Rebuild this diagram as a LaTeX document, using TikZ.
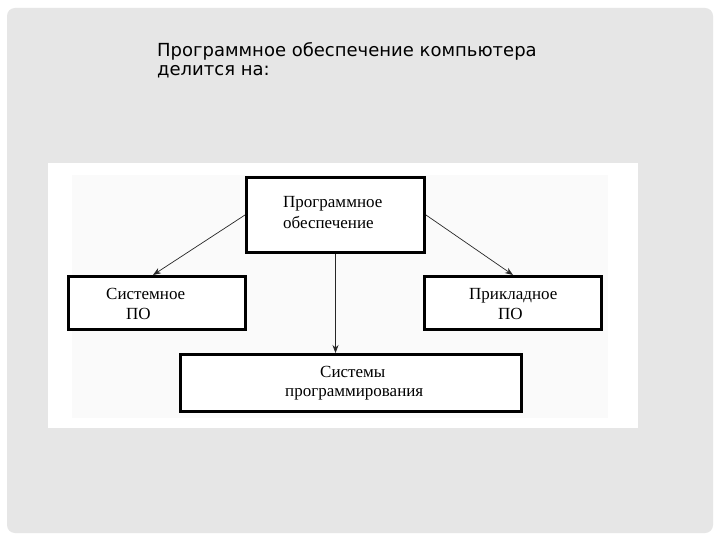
\documentclass[tikz,border=0pt]{standalone}
\usepackage{fontspec}
\setmainfont{Liberation Serif}
\newfontfamily\titlefont{DejaVu Sans}
\usetikzlibrary{arrows.meta}
\definecolor{slidegray}{HTML}{E6E6E6}
\definecolor{innerwhite}{HTML}{FAFAFA}
\begin{document}
\begin{tikzpicture}[x=1pt,y=-1pt,
  box/.style={draw=black, line width=3pt, fill=white, inner sep=0pt},
  lbl/.style={font=\fontsize{17}{20}\selectfont, align=left, inner sep=0pt, anchor=base west},
  arr/.style={-{Stealth[length=8pt,width=6pt]}, line width=0.7pt, draw=black!85}]
\useasboundingbox (0,0) rectangle (720,540);
\fill[white] (0,0) rectangle (720,540);
\fill[slidegray, rounded corners=8pt] (7,8) rectangle (713,533);
\fill[white] (48,163) rectangle (638,428);
\fill[innerwhite] (72,175) rectangle (608,418);
\node[font=\titlefont\fontsize{18}{19}\selectfont, align=left, inner sep=0pt, anchor=north west] (title) at (157,42)
  {Программное обеспечение компьютера\\делится на:};
\node[box, minimum width=178pt, minimum height=75pt] (top) at (335.5,215) {};
\node[box, minimum width=177pt, minimum height=53pt] (left) at (157,303) {};
\node[box, minimum width=177pt, minimum height=53pt] (right) at (513,303) {};
\node[box, minimum width=341pt, minimum height=57pt] (bottom) at (351,383) {};
\node[lbl, font=\fontsize{17}{21}\selectfont] (ttop) at (283,229) {Программное\\обеспечение};
\node[lbl] (tleft) at (106,319) {Системное\\\hspace*{20pt}ПО};
\node[lbl] (tright) at (469,319) {Прикладное\\\hspace*{29pt}ПО};
\node[lbl, font=\fontsize{17}{19}\selectfont] (tbottom) at (285,396) {\hspace*{35pt}Системы\\программирования};
\draw[arr] (top.west) -- ([xshift=-4pt]left.north);
\draw[arr] (top.east) -- (right.north);
\draw[arr] (top.south) -- (top.south |- bottom.north);
\end{tikzpicture}
\end{document}
